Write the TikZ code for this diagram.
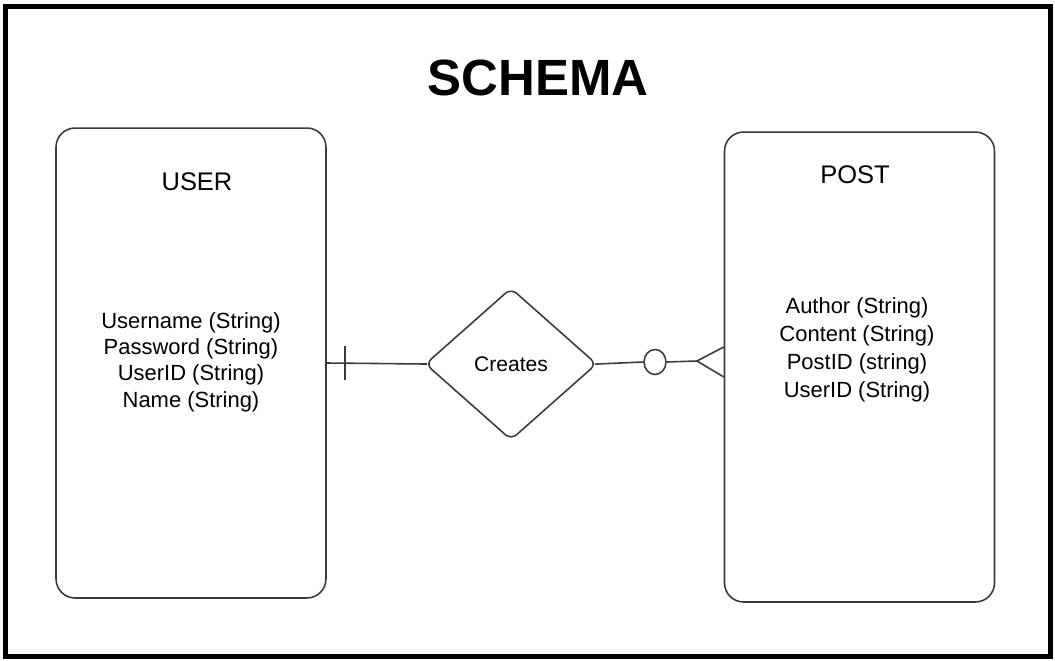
\documentclass[tikz,border=0pt]{standalone}
\usepackage{fontspec}
\setmainfont{Liberation Sans}
\usetikzlibrary{shapes.geometric,calc}
\definecolor{linegray}{HTML}{3A3A3A}

\begin{document}
\begin{tikzpicture}[x=0.02cm,y=-0.02cm,
    entity/.style={draw=linegray, line width=0.9pt, rounded corners=0.38cm,
      minimum width=5.4cm, minimum height=9.4cm},
    relation/.style={draw=linegray, line width=0.9pt, diamond, rounded corners=0.15cm,
      minimum width=3.43cm, minimum height=3.04cm, inner sep=0pt,
      font=\fontsize{12}{14}\selectfont},
    attrs/.style={align=center},
    conn/.style={draw=linegray, line width=0.9pt}]

    % 画布与外框
    \useasboundingbox (0,0) rectangle (1055,660);
    \draw[line width=0.1cm] (5.8,6.8) rectangle (1050.5,656);

    % 标题
    \node[font=\bfseries\fontsize{29}{34}\selectfont] (title) at (538,78) {SCHEMA};

    % 两个实体
    \node[entity] (user) at (191,363) {};
    \node[entity] (post) at (859.5,367) {};
    \node[font=\fontsize{14.5}{17}\selectfont] (userhead) at (197,182) {USER};
    \node[font=\fontsize{14.5}{17}\selectfont] (posthead) at (855,175) {POST};

    % 属性
    \node[attrs, font=\fontsize{12.5}{15}\selectfont] (userattr) at (191,362)
      {Username (String)\\Password (String)\\UserID (String)\\Name (String)};
    \node[attrs, font=\fontsize{12.5}{16}\selectfont] (postattr) at (857,350)
      {Author (String)\\Content (String)\\PostID (string)\\UserID (String)};

    % 关系
    \node[relation] (creates) at (511,364) {Creates};
    \node[draw=linegray, line width=0.9pt, ellipse, inner sep=0pt,
      minimum width=0.44cm, minimum height=0.5cm] (zero) at (655,362) {};

    % 连线：一端
    \draw[conn, shorten >=-1.5pt] (user.east) -- (creates.west);
    \draw[conn] ($(user.east)+(18,-17)$) -- ++(0,34); % 单竖线

    % 连线：多端
    \coordinate (foot) at (697,361);
    \coordinate (ftop) at (post.west |- 0,347);
    \coordinate (fbot) at (post.west |- 0,377);
    \draw[conn, shorten <=-1.5pt] (creates.east) -- (zero.west);
    \draw[conn] (zero.east) -- (foot);
    \draw[conn] (foot) -- (ftop);
    \draw[conn] (foot) -- (fbot);

\end{tikzpicture}
\end{document}
